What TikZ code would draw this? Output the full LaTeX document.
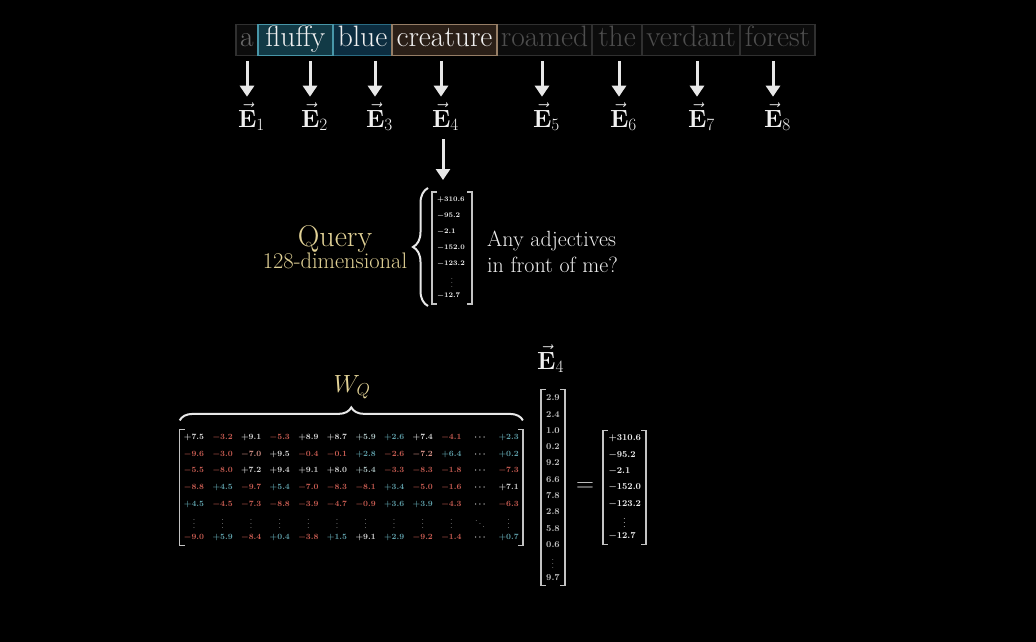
\documentclass[tikz,border=0pt]{standalone}
\usepackage{amsmath}
\usetikzlibrary{arrows.meta,decorations.pathreplacing,matrix}
\definecolor{qcol}{RGB}{226,210,150}
\definecolor{txt}{RGB}{240,240,240}
\definecolor{arr}{RGB}{232,232,232}
\definecolor{brkc}{RGB}{195,195,195}
\definecolor{cW}{RGB}{218,218,218}
\definecolor{cL}{RGB}{178,200,200}
\definecolor{cT}{RGB}{95,160,170}
\definecolor{cR}{RGB}{200,92,82}
\definecolor{cP}{RGB}{215,145,135}
\definecolor{cG}{RGB}{195,195,195}
\definecolor{fluffyfill}{RGB}{18,58,70}
\definecolor{fluffyline}{RGB}{72,150,168}
\definecolor{bluefill}{RGB}{12,45,64}
\definecolor{blueline}{RGB}{42,108,132}
\definecolor{creafill}{RGB}{42,31,23}
\definecolor{crealine}{RGB}{150,126,102}
\definecolor{dimline}{RGB}{48,48,48}
\definecolor{dimtext}{RGB}{78,78,78}
\definecolor{dimfill}{RGB}{12,12,12}
\definecolor{atext}{RGB}{105,105,105}
\newcommand\drawbrk[1]{%
  \draw[brk] ([xshift=5pt]#1.north west) -- (#1.north west) -- (#1.south west) -- ([xshift=5pt]#1.south west);
  \draw[brk] ([xshift=-5pt]#1.north east) -- (#1.north east) -- (#1.south east) -- ([xshift=-5pt]#1.south east);}
\begin{document}
\begin{tikzpicture}[x=1pt,y=-1pt,
  bigarrow/.style={arr, line width=3pt, -{Triangle[width=14pt,length=11pt]}},
  wordbox/.style={draw, line width=1.3pt, inner sep=0pt, minimum height=31pt,
    text height=20pt, text depth=6pt, font=\fontsize{29.5}{32}\selectfont},
  dimword/.style={wordbox, draw=dimline, fill=dimfill, text=dimtext},
  evec/.style={inner sep=0pt, anchor=base west, text=txt, font=\fontsize{25}{30}\selectfont},
  brk/.style={brkc, line width=1.4pt},
  brc/.style={arr, line width=2pt, decorate},
  nW/.style={text=cW}, nR/.style={text=cR}, nT/.style={text=cT},
  nL/.style={text=cL}, nP/.style={text=cP}
]
\fill[black] (0,0) rectangle (1036,642);
\useasboundingbox (0,0) rectangle (1036,642);

% word boxes
\node[dimword, text=atext, minimum width=22pt] (w1) at (247,40) {a};
\node[dimword, minimum width=95pt] (w5) at (544.5,40) {roamed};
\node[dimword, minimum width=50pt] (w6) at (617,40) {the};
\node[dimword, minimum width=98pt] (w7) at (691,40) {verdant};
\node[dimword, minimum width=75pt] (w8) at (777.5,40) {forest};
\node[wordbox, draw=blueline, fill=bluefill, text=txt, minimum width=59pt] (w3) at (362.5,40) {blue};
\node[wordbox, draw=fluffyline, fill=fluffyfill, text=txt, minimum width=75pt] (w2) at (295.5,40) {fluffy};
\node[wordbox, draw=crealine, fill=creafill, text=txt, minimum width=105pt] (w4) at (444.5,40) {creature};

% embedding vectors and arrows
\foreach \i/\x in {1/247,2/310,3/375,4/441,5/542,6/619,7/697,8/773}{
  \node[evec] (E\i) at (\x-9.2,127) {$\vec{\mathbf{E}}_{\i}$};
  \coordinate (t\i) at (\x,61);
  \draw[bigarrow, shorten >=6pt] (t\i) -- (t\i |- E\i.north);
}

% query vector
\matrix (Q) [matrix of math nodes, inner sep=0pt, outer sep=0pt, row sep=0pt,
  nodes={inner xsep=5pt, inner ysep=0pt, text width=30pt, align=left, minimum height=16pt,
    font=\fontsize{7.5}{8}\selectfont\boldmath, text=txt}] at (452,248) {
  +310.6 \\ -95.2 \\ -2.1 \\ -152.0 \\ -123.2 \\ |[align=center]| \vdots \\ -12.7 \\
};
\drawbrk{Q}
\draw[brc, decoration={brace, amplitude=15pt}] ([xshift=-4pt,yshift=-2pt]Q.south west) -- ([xshift=-4pt,yshift=4pt]Q.north west);

\coordinate (d4) at (443,139);
\draw[bigarrow, shorten >=12pt] (d4) -- (d4 |- Q.north);

\node[anchor=base, text=qcol, font=\fontsize{30}{34}\selectfont] (qlabel) at (335,246) {Query};
\node[anchor=base, text=qcol, font=\fontsize{22.5}{26}\selectfont] (qdim) at (335,268) {128-dimensional};
\node[anchor=base west, align=left, text=txt, font=\fontsize{22}{26}\selectfont, inner sep=0pt] (ask) at (487,272) {Any adjectives\\in front of me?};

% W_Q matrix
\matrix (W) [matrix of math nodes, inner sep=0pt, outer sep=0pt, column sep=0pt, row sep=0pt,
  nodes={minimum width=28.6pt, minimum height=16.6pt, inner sep=0pt, anchor=center,
    font=\fontsize{8.3}{9}\selectfont\boldmath, text=cW}] at (351.3,487.5) {
 |[nW]| +7.5 & |[nR]| -3.2 & |[nW]| +9.1 & |[nR]| -5.3 & |[nW]| +8.9 & |[nW]| +8.7 & |[nL]| +5.9 & |[nT]| +2.6 & |[nW]| +7.4 & |[nR]| -4.1 & \cdots & |[nT]| +2.3 \\
 |[nR]| -9.6 & |[nR]| -3.0 & |[nP]| -7.0 & |[nW]| +9.5 & |[nR]| -0.4 & |[nR]| -0.1 & |[nT]| +2.8 & |[nR]| -2.6 & |[nP]| -7.2 & |[nT]| +6.4 & \cdots & |[nT]| +0.2 \\
 |[nR]| -5.5 & |[nR]| -8.0 & |[nW]| +7.2 & |[nW]| +9.4 & |[nW]| +9.1 & |[nW]| +8.0 & |[nL]| +5.4 & |[nR]| -3.3 & |[nR]| -8.3 & |[nR]| -1.8 & \cdots & |[nR]| -7.3 \\
 |[nR]| -8.8 & |[nT]| +4.5 & |[nR]| -9.7 & |[nT]| +5.4 & |[nR]| -7.0 & |[nR]| -8.3 & |[nR]| -8.1 & |[nT]| +3.4 & |[nR]| -5.0 & |[nR]| -1.6 & \cdots & |[nW]| +7.1 \\
 |[nT]| +4.5 & |[nR]| -4.5 & |[nR]| -7.3 & |[nR]| -8.8 & |[nR]| -3.9 & |[nR]| -4.7 & |[nR]| -0.9 & |[nT]| +3.6 & |[nT]| +3.9 & |[nR]| -4.3 & \cdots & |[nR]| -6.3 \\
 \vdots & \vdots & \vdots & \vdots & \vdots & \vdots & \vdots & \vdots & \vdots & \vdots & \ddots & \vdots \\
 |[nR]| -9.0 & |[nT]| +5.9 & |[nR]| -8.4 & |[nT]| +0.4 & |[nR]| -3.8 & |[nT]| +1.5 & |[nW]| +9.1 & |[nT]| +2.9 & |[nR]| -9.2 & |[nR]| -1.4 & \cdots & |[nT]| +0.7 \\
};
\drawbrk{W}
\draw[brc, decoration={brace, amplitude=13pt}] ([yshift=9pt]W.north west) -- ([yshift=9pt]W.north east);
\node[anchor=base, text=qcol, font=\fontsize{25}{28}\selectfont] (wq) at (352,392) {$W_Q$};

% E4 column vector
\node[evec] (E4b) at (537,369) {$\vec{\mathbf{E}}_{4}$};
\matrix (EV) [matrix of math nodes, inner sep=0pt, outer sep=0pt, row sep=0pt,
  nodes={minimum width=24pt, minimum height=16.3pt, inner sep=0pt, anchor=center,
    font=\fontsize{9}{10}\selectfont\boldmath, text=cG}] at (553,487.5) {
  2.9 \\ 2.4 \\ 1.0 \\ 0.2 \\ 9.2 \\ 6.6 \\ 7.8 \\ 2.8 \\ 5.8 \\ 0.6 \\ \vdots \\ 9.7 \\
};
\drawbrk{EV}

\node[text=cW, font=\fontsize{26}{30}\selectfont] (eq) at (585,487) {$=$};

% result vector
\matrix (R) [matrix of math nodes, inner sep=0pt, outer sep=0pt, row sep=0pt,
  nodes={inner xsep=5.5pt, inner ysep=0pt, text width=32pt, align=left, minimum height=16.3pt,
    font=\fontsize{9.5}{10}\selectfont\boldmath, text=txt}] at (624.5,487.5) {
  +310.6 \\ -95.2 \\ -2.1 \\ -152.0 \\ -123.2 \\ |[align=center]| \vdots \\ -12.7 \\
};
\drawbrk{R}
\end{tikzpicture}
\end{document}
